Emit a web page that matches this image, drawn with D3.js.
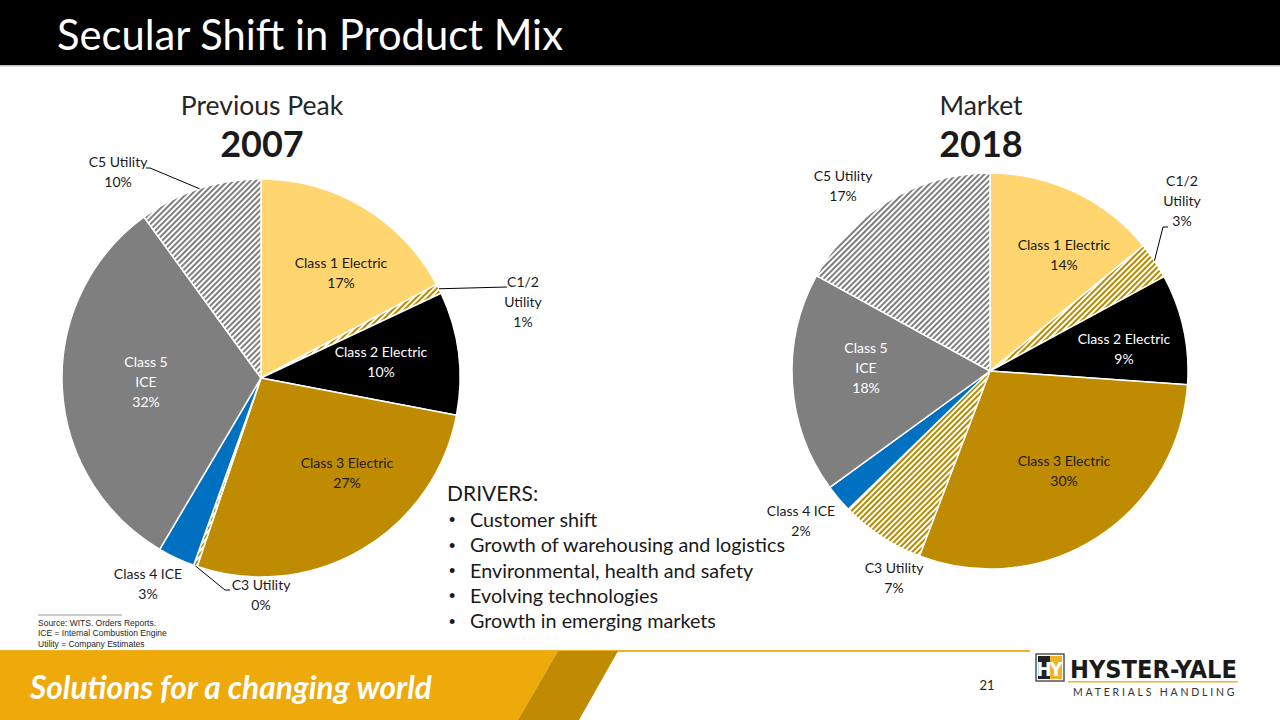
<!DOCTYPE html>
<html><head><meta charset="utf-8">
<script src="https://cdn.jsdelivr.net/npm/d3@7/dist/d3.min.js"></script>
<style>body{margin:0;background:#fff}svg{display:block}</style>
</head><body>
<svg id="c" width="1280" height="720"></svg>
<script>
// ---------- data ----------
const categories = ["Class 1 Electric","C1/2 Utility","Class 2 Electric","Class 3 Electric","C3 Utility","Class 4 ICE","Class 5 ICE","C5 Utility"];
const labelLines = [["Class 1 Electric"],["C1/2","Utility"],["Class 2 Electric"],["Class 3 Electric"],["C3 Utility"],["Class 4 ICE"],["Class 5","ICE"],["C5 Utility"]];
const values2007 = [17.2, 0.8, 10.0, 27.2, 0.3, 3.0, 31.5, 10.0];
const values2018 = [14.1, 3.0, 9.0, 29.7, 6.9, 2.3, 18.0, 17.0];
const pctLabels2007 = ["17%","1%","10%","27%","0%","3%","32%","10%"];
const pctLabels2018 = ["14%","3%","9%","30%","7%","2%","18%","17%"];
const drivers = ["Customer shift","Growth of warehousing and logistics","Environmental, health and safety","Evolving technologies","Growth in emerging markets"];
const sourceNotes = ["Source: WITS. Orders Reports.","ICE = Internal Combustion Engine","Utility = Company Estimates"];

// ---------- styles ----------
const fills = ["#FFD56F","url(#hatchGold)","#000000","#BF8B00","url(#hatchGold)","#0070C0","#7F7F7F","url(#hatchGray)"];
const labelColors = ["#1a1a1a","#1a1a1a","#ffffff","#1a1a1a","#1a1a1a","#1a1a1a","#ffffff","#1a1a1a"];
const FONT = "Lato, 'Open Sans', sans-serif";

const svg = d3.select("#c");
const defs = svg.append("defs");
function hatch(id, color){
  const p = defs.append("pattern").attr("id",id).attr("patternUnits","userSpaceOnUse")
    .attr("width",4).attr("height",4).attr("patternTransform","rotate(45)");
  p.append("rect").attr("width",4).attr("height",4).attr("fill","#fff");
  p.append("rect").attr("width",2).attr("height",4).attr("fill",color);
}
hatch("hatchGray","#7F7F7F");
hatch("hatchGold","#B88A00");

function fit(sel, w){
  const n = sel.node();
  let fs = parseFloat(sel.attr("font-size"));
  const cur = n.getComputedTextLength();
  sel.attr("font-size", (fs * w / cur).toFixed(2));
  return sel;
}

// ---------- header ----------
svg.append("rect").attr("x",0).attr("y",0).attr("width",1280).attr("height",65).attr("fill","#000");
svg.append("rect").attr("x",0).attr("y",65).attr("width",1280).attr("height",1.5).attr("fill","#bfbfbf");
fit(svg.append("text").attr("x",57).attr("y",50).attr("fill","#fff").attr("font-family",FONT)
  .attr("font-size",40).text("Secular Shift in Product Mix"), 506);

// ---------- pies ----------
const pie = d3.pie().sort(null).value(d=>d).startAngle(0).endAngle(2*Math.PI);

function drawPie(cfg){
  const g = svg.append("g").attr("transform",`translate(${cfg.cx},${cfg.cy})`);
  const arc = d3.arc().innerRadius(0).outerRadius(cfg.r);
  const arcs = pie(cfg.values);
  g.selectAll("path.slice").data(arcs).join("path").attr("class","slice")
    .attr("d",arc).attr("fill",(d,i)=>fills[i])
    .attr("stroke","#fff").attr("stroke-width",1.5).attr("stroke-linejoin","round");
  // leader lines
  cfg.leaders.forEach(L=>{
    const a = arcs[L.i];
    const m = (a.startAngle + a.endAngle)/2;
    const sx = cfg.r*Math.sin(m), sy = -cfg.r*Math.cos(m);
    const pts = [[sx,sy]].concat(L.pts);
    g.append("path").attr("d",d3.line()(pts)).attr("fill","none").attr("stroke","#000").attr("stroke-width",1);
  });
  // labels
  arcs.forEach((a,i)=>{
    const lines = labelLines[i].concat([cfg.pct[i]]);
    const [ox,oy] = cfg.labelPos[i];
    const lh = 20;
    const t = g.append("text").attr("text-anchor","middle").attr("font-family",FONT)
      .attr("font-size",14).attr("fill",labelColors[i]);
    const top = oy - (lines.length-1)*lh/2;
    lines.forEach((s,k)=>{
      t.append("tspan").attr("x",ox).attr("y",top+k*lh).attr("dy","0.35em").text(s);
    });
  });
  // headings
  svg.append("text").attr("x",cfg.hx).attr("y",115).attr("text-anchor","middle").attr("font-family",FONT)
    .attr("font-size",26.5).attr("fill","#262626").text(cfg.heading);
  svg.append("text").attr("x",cfg.hx).attr("y",156.5).attr("text-anchor","middle").attr("font-family",FONT)
    .attr("font-weight","bold").attr("font-size",36).attr("fill","#1a1a1a").text(cfg.year);
}

drawPie({cx:261, cy:378, r:199, values:values2007, pct:pctLabels2007,
  heading:"Previous Peak", year:"2007", hx:262,
  labelPos:[[80,-105],[262,-76],[120,-16],[86,95],[0,217],[-113,206],[-115,4],[-143,-206]],
  leaders:[{i:1, pts:[[246,-91]]},{i:4, pts:[[-36,212],[-31,212]]},{i:7, pts:[[-111,-210],[-115,-210]]}]
});
drawPie({cx:990, cy:371, r:198, values:values2018, pct:pctLabels2018,
  heading:"Market", year:"2018", hx:981,
  labelPos:[[74,-116],[192,-170],[134,-22],[74,100],[-96,207],[-189,150],[-124,-3],[-147,-185]],
  leaders:[{i:1, pts:[[173,-144],[178,-144]]}]
});

// ---------- drivers ----------
svg.append("text").attr("x",447).attr("y",494).attr("dy","0.35em").attr("font-family",FONT)
  .attr("font-size",21).attr("fill","#1a1a1a").text("DRIVERS:");
drivers.forEach((d,i)=>{
  const y = 520 + i*25.3;
  svg.append("text").attr("x",449).attr("y",y).attr("dy","0.35em").attr("font-family","Arial, 'Liberation Sans'")
    .attr("font-size",18).attr("fill","#1a1a1a").text("•");
  const t = svg.append("text").attr("x",470).attr("y",y).attr("dy","0.35em").attr("font-family",FONT)
    .attr("font-size",19).attr("fill","#1a1a1a").text(d);
  if(i===1) fit(t, 315);
});
(function(){
  const ts = svg.selectAll("text").filter(function(){return drivers.includes(this.textContent);});
  let fs = null;
  ts.each(function(){ if(this.textContent===drivers[1]) fs = this.getAttribute("font-size"); });
  ts.attr("font-size",fs);
})();

// ---------- source notes ----------
svg.append("line").attr("x1",38).attr("x2",122).attr("y1",615).attr("y2",615).attr("stroke","#7f7f7f").attr("stroke-width",0.8);
sourceNotes.forEach((s,i)=>{
  svg.append("text").attr("x",38).attr("y",623+i*10.5).attr("dy","0.35em").attr("font-family","'Liberation Sans', Arial, sans-serif")
    .attr("font-size",8.5).attr("fill","#262626").text(s);
});

// ---------- footer ----------
svg.append("rect").attr("x",0).attr("y",650).attr("width",1030).attr("height",2).attr("fill","#F0B323");
svg.append("polygon").attr("points","0,651 558,651 518,720 0,720").attr("fill","#EEA90A");
svg.append("polygon").attr("points","558,651 618,651 579,720 518,720").attr("fill","#BF8B00");
fit(svg.append("text").attr("x",30).attr("y",699).attr("font-family",FONT).attr("font-style","italic")
  .attr("font-weight","bold").attr("font-size",29).attr("fill","#fff").text("Solutions for a changing world"), 402);
svg.append("text").attr("x",987).attr("y",685).attr("dy","0.35em").attr("text-anchor","middle")
  .attr("font-family",FONT).attr("font-size",13).attr("fill","#262626").text("21");

// logo
const lg = svg.append("g");
lg.append("rect").attr("x",1036).attr("y",654).attr("width",28).attr("height",27).attr("fill","#fff").attr("stroke","#555").attr("stroke-width",1.5);
lg.append("rect").attr("x",1038).attr("y",656).attr("width",12).attr("height",23).attr("fill","#222");
lg.append("rect").attr("x",1050).attr("y",656).attr("width",12).attr("height",23).attr("fill","#F0B323");
lg.append("text").attr("x",1044).attr("y",676).attr("text-anchor","middle").attr("font-family","'DejaVu Sans Condensed','DejaVu Sans'")
  .attr("font-weight","bold").attr("font-size",20).attr("fill","#fff").text("H");
lg.append("text").attr("x",1056).attr("y",676).attr("text-anchor","middle").attr("font-family","'DejaVu Sans Condensed','DejaVu Sans'")
  .attr("font-weight","bold").attr("font-size",20).attr("fill","#fff").text("Y");
fit(lg.append("text").attr("x",1070).attr("y",678).attr("font-family","'DejaVu Sans Condensed','DejaVu Sans'")
  .attr("font-weight","bold").attr("font-size",28).attr("fill","#1a1a1a").text("HYSTER-YALE"), 167);
lg.append("rect").attr("x",1068).attr("y",681).attr("width",170).attr("height",1.5).attr("fill","#F0B323");
lg.append("text").attr("x",1073).attr("y",692).attr("dy","0.35em").attr("font-family",FONT)
  .attr("font-size",10.5).attr("letter-spacing",2.8).attr("fill","#333").text("MATERIALS HANDLING");
</script>
</body></html>
